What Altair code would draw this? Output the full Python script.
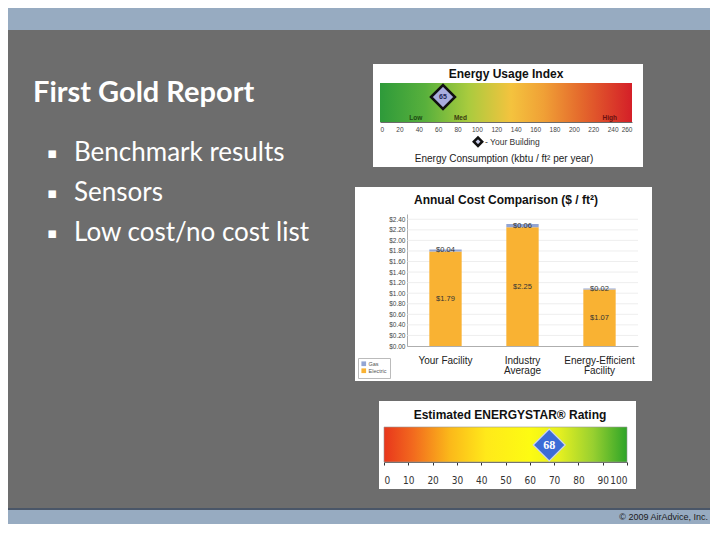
import altair as alt
import pandas as pd

# ---------------- data ----------------
facilities = ["Your Facility", "Industry Average", "Energy-Efficient Facility"]
electric_cost = [1.79, 2.25, 1.07]
gas_cost = [0.04, 0.06, 0.02]
cost_types = ["Gas", "Electric"]
cost_ticks = [0.0, 0.2, 0.4, 0.6, 0.8, 1.0, 1.2, 1.4, 1.6, 1.8, 2.0, 2.2, 2.4]
cost_domain = [0, 2.5]

eui_domain = [0, 260]
eui_ticks = [0, 20, 40, 60, 80, 100, 120, 140, 160, 180, 200, 220, 240, 260]
eui_value = [65]
eui_zone_labels = ["Low", "Med", "High"]
eui_zone_values = [37, 83, 237]

star_domain = [0, 100]
star_ticks = [0, 10, 20, 30, 40, 50, 60, 70, 80, 90, 100]
star_value = [68]

slide_title = "First Gold Report"
bullets = ["Benchmark results", "Sensors", "Low cost/no cost list"]
copyright_text = "© 2009 AirAdvice, Inc."

# ---------------- layout helpers ----------------
OX = 407          # slide x of the column origin
FONT = "Liberation Sans"
one = pd.DataFrame({"k": [0]})


def box(x0, y0, x1, y1, color, oy):
    return alt.Chart(one).mark_rect(color=color).encode(
        x=alt.value(x0 - OX), x2=alt.value(x1 - OX),
        y=alt.value(y0 - oy), y2=alt.value(y1 - oy))


def label(text, x, y, oy, **kw):
    kw.setdefault("font", FONT)
    return alt.Chart(one).mark_text(text=text, **kw).encode(
        x=alt.value(x - OX), y=alt.value(y - oy))


def spacer(h):
    return alt.Chart(one).mark_rect(opacity=0).encode(
        x=alt.value(0), x2=alt.value(1), y=alt.value(0), y2=alt.value(1)
    ).properties(width=231, height=h)


# ---------------- slide background (first, drawn behind) ----------------
BY = 8
bg_layers = [
    box(8, 8, 710, 524, "#6d6d6d", BY),
    box(8, 8, 710, 30, "#97abc1", BY),
    box(8, 508, 710, 510, "#4a5668", BY),
    box(8, 510, 710, 524, "#97abc1", BY),
    box(373, 64, 643, 167, "white", BY),
    box(355, 187, 652, 381, "white", BY),
    box(379, 401, 636, 489, "white", BY),
    label(slide_title, 33, 101.7, BY, fontSize=29, fontWeight="bold",
          font="Lato", color="white", align="left", baseline="alphabetic"),
    label(copyright_text, 708, 517, BY, fontSize=9, color="#1a1a1a",
          align="right", baseline="middle"),
]
for i, b in enumerate(bullets):
    base = 160.7 + 40 * i
    bg_layers.append(label("\u25aa", 52, base - 3, BY, fontSize=15, font="DejaVu Sans",
                           color="white", align="center", baseline="alphabetic"))
    bg_layers.append(label(b, 74, base, BY, fontSize=26, font="Lato",
                           color="white", align="left", baseline="alphabetic"))
bg = alt.layer(*bg_layers).properties(width=231, height=75)

# ---------------- Energy Usage Index panel ----------------
EY = 83
eui_grad = alt.LinearGradient(
    gradient="linear", x1=0, x2=1, y1=0, y2=0,
    stops=[
        alt.GradientStop(offset=0.0, color="#2e9a3a"),
        alt.GradientStop(offset=0.18, color="#58b03c"),
        alt.GradientStop(offset=0.35, color="#a9cb3e"),
        alt.GradientStop(offset=0.52, color="#f4c33e"),
        alt.GradientStop(offset=0.65, color="#f0a036"),
        alt.GradientStop(offset=0.8, color="#e4682c"),
        alt.GradientStop(offset=1.0, color="#d41f28"),
    ])
eui_scale = alt.Scale(domain=eui_domain, range=[380 - OX, 632 - OX], nice=False, zero=False)
eui_axis = alt.Axis(values=eui_ticks, labelFontSize=6.5, labelColor="#444", ticks=False,
                    domain=True, domainColor="#444", domainWidth=0.8, labelPadding=4,
                    grid=False, labelFont=FONT, labelOverlap=False)


def eui_x(field):
    return alt.X(field, type="quantitative", scale=eui_scale, axis=eui_axis, title=None)


eui_bar = alt.Chart(pd.DataFrame({"lo": [eui_domain[0]], "hi": [eui_domain[1]]})).mark_rect(
    color=eui_grad).encode(x=eui_x("lo"), x2="hi:Q", y=alt.value(0), y2=alt.value(39))
eui_zones = alt.Chart(pd.DataFrame({"v": eui_zone_values, "label": eui_zone_labels})).mark_text(
    fontSize=6.5, fontWeight="bold", font=FONT, baseline="middle").encode(
    x=eui_x("v"), y=alt.value(35), text="label:N",
    color=alt.Color("label:N", scale=alt.Scale(domain=eui_zone_labels,
                                               range=["#1d4a12", "#3a3a10", "#6a1010"]),
                    legend=None))
eui_df = pd.DataFrame({"v": eui_value})
eui_marker = alt.Chart(eui_df).mark_point(
    shape="diamond", size=576, filled=True, fill="#a9addf", stroke="#111",
    strokeWidth=2.5, opacity=1).encode(x=eui_x("v"), y=alt.value(14))
eui_marker_txt = alt.Chart(eui_df).mark_text(
    fontSize=7, fontWeight="bold", font=FONT, color="#1c2456", baseline="middle").encode(
    x=eui_x("v"), y=alt.value(14), text=alt.Text("v:Q"))
eui = alt.layer(
    eui_bar, eui_zones, eui_marker, eui_marker_txt,
    label("Energy Usage Index", 506, 74, EY, fontSize=12, fontWeight="bold",
          color="#111", baseline="middle"),
    alt.Chart(one).mark_point(shape="diamond", size=70, filled=True, fill="#c8cbe8",
                              stroke="#111", strokeWidth=2.5, opacity=1).encode(
        x=alt.value(478 - OX), y=alt.value(141.7 - EY)),
    label("- Your Building", 485, 142, EY, fontSize=8.5, color="#333",
          align="left", baseline="middle"),
    label("Energy Consumption (kbtu / ft\u00b2 per year)", 504, 159, EY, fontSize=10,
          color="#222", baseline="middle"),
).properties(width=231, height=39)

# ---------------- Annual Cost Comparison panel ----------------
CY = 214
rows = []
for f, e, g in zip(facilities, electric_cost, gas_cost):
    rows.append({"facility": f, "type": "Electric", "cost": e, "ord": 0})
    rows.append({"facility": f, "type": "Gas", "cost": g, "ord": 1})
cost_df = pd.DataFrame(rows)

cost_y_scale = alt.Scale(domain=cost_domain, nice=False, zero=True)
cost_y_axis = alt.Axis(values=cost_ticks, format="$.2f", labelFontSize=6.5, labelColor="#444",
                       ticks=False, labelPadding=2, domainColor="#999", domainWidth=0.8,
                       grid=False, labelFont=FONT, labelOverlap=False)
cost_x = alt.X("facility:N", sort=facilities, title=None,
               scale=alt.Scale(paddingInner=0.58, paddingOuter=0.29),
               axis=alt.Axis(labelAngle=0, labelFontSize=10, labelColor="#222",
                             labelPadding=9, ticks=False, domainColor="#999",
                             domainWidth=0.8, labelLineHeight=10.5, labelFont=FONT,
                             labelExpr="datum.label == 'Your Facility' ? datum.label : split(datum.label, ' ')"))

cost_grid = alt.Chart(pd.DataFrame({"t": cost_ticks[1:]})).mark_rule(
    color="#e6e6e6", strokeWidth=0.7).encode(
    y=alt.Y("t:Q", scale=cost_y_scale, axis=cost_y_axis, title=None))
cost_bars = alt.Chart(cost_df).mark_bar().encode(
    x=cost_x,
    y=alt.Y("cost:Q", stack="zero", scale=cost_y_scale, axis=cost_y_axis, title=None),
    color=alt.Color("type:N", scale=alt.Scale(domain=cost_types, range=["#93a5d3", "#f9b233"]),
                    legend=alt.Legend(orient="none", legendX=-49, legendY=144, title=None,
                                      symbolType="square", symbolSize=22, labelFontSize=5.5,
                                      labelColor="#555", padding=3, rowPadding=0,
                                      fillColor="white", strokeColor="#bbb", labelOffset=2,
                                      symbolStrokeWidth=0, labelFont=FONT)),
    order=alt.Order("ord:Q"))
cost_labels = alt.Chart(cost_df).transform_stack(
    as_=["c0", "c1"], stack="cost", groupby=["facility"],
    sort=[alt.SortField("ord", order="ascending")]
).transform_calculate(mid="(datum.c0 + datum.c1) / 2").mark_text(
    fontSize=7.5, color="#333", font=FONT, baseline="middle").encode(
    x=cost_x, y=alt.Y("mid:Q", scale=cost_y_scale, axis=cost_y_axis, title=None),
    text=alt.Text("cost:Q", format="$.2f"))
cost = alt.layer(
    cost_grid, cost_bars, cost_labels,
    label("Annual Cost Comparison ($ / ft\u00b2)", 506, 200, CY, fontSize=12,
          fontWeight="bold", color="#111", baseline="middle"),
).properties(width=231, height=132)

# ---------------- ENERGY STAR panel ----------------
SY = 427
star_grad = alt.LinearGradient(
    gradient="linear", x1=0, x2=1, y1=0, y2=0,
    stops=[
        alt.GradientStop(offset=0.0, color="#e8361c"),
        alt.GradientStop(offset=0.12, color="#f26a1e"),
        alt.GradientStop(offset=0.27, color="#fbb81a"),
        alt.GradientStop(offset=0.42, color="#ffe91a"),
        alt.GradientStop(offset=0.6, color="#fdfb12"),
        alt.GradientStop(offset=0.72, color="#e6f020"),
        alt.GradientStop(offset=0.86, color="#98d030"),
        alt.GradientStop(offset=1.0, color="#2ea428"),
    ])
star_scale = alt.Scale(domain=star_domain, range=[384 - OX, 627 - OX], nice=False, zero=False)
star_axis = alt.Axis(values=star_ticks, labelFontSize=10,
                     labelFont="Liberation Sans Narrow, DejaVu Sans Condensed, sans-serif",
                     labelColor="#333", ticks=True, tickSize=3, tickColor="#333",
                     domain=True, domainColor="#666", labelPadding=10, grid=False,
                     labelOverlap=False)


def star_x(field):
    return alt.X(field, type="quantitative", scale=star_scale, axis=star_axis, title=None)


star_bar = alt.Chart(pd.DataFrame({"lo": [star_domain[0]], "hi": [star_domain[1]]})).mark_rect(
    color=star_grad, stroke="#999", strokeWidth=0.6).encode(
    x=star_x("lo"), x2="hi:Q", y=alt.value(0), y2=alt.value(35))
star_df = pd.DataFrame({"v": star_value})
star_marker = alt.Chart(star_df).mark_point(
    shape="diamond", size=1024, filled=True, fill="#3c6cd6", stroke="#cdd5ee",
    strokeWidth=1.2, opacity=1).encode(x=star_x("v"), y=alt.value(18))
star_marker_txt = alt.Chart(star_df).mark_text(
    fontSize=12, fontWeight="bold", font="Liberation Serif", color="white",
    baseline="middle").encode(x=star_x("v"), y=alt.value(18), text=alt.Text("v:Q"))
star = alt.layer(
    star_bar, star_marker, star_marker_txt,
    label("Estimated ENERGYSTAR\u00ae Rating", 510, 415, SY, fontSize=12,
          fontWeight="bold", color="#111", baseline="middle"),
).properties(width=231, height=35)

chart = alt.vconcat(
    bg, eui, spacer(92), cost, spacer(81), star, spacing=0, bounds="flush"
).resolve_scale(color="independent").properties(
    padding=0, background="#6d6d6d"
).configure(font=FONT).configure_view(strokeWidth=0)

chart.save("out.html", embed_options={"renderer": "svg", "actions": False})
